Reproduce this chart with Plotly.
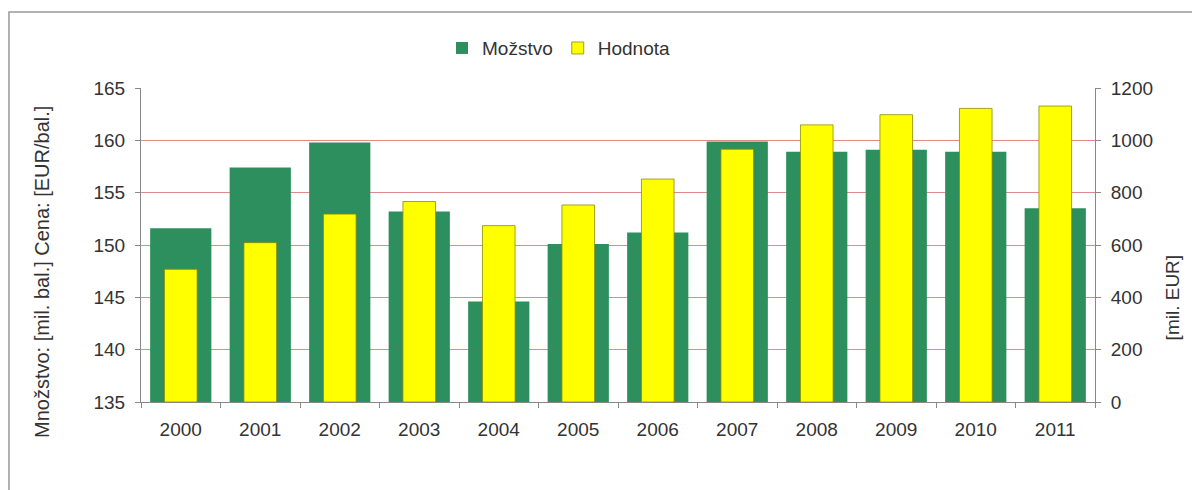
import plotly.graph_objects as go

years = [str(y) for y in range(2000, 2012)]
mnozstvo = [151.6, 157.4, 159.8, 153.2, 144.6, 150.1, 151.2, 159.9, 158.9, 159.1, 158.9, 153.5]
hodnota = [507, 609, 718, 766, 674, 753, 852, 966, 1059, 1098, 1122, 1131]
left_ticks = [135, 140, 145, 150, 155, 160, 165]
right_ticks = [0, 200, 400, 600, 800, 1000, 1200]
grid_vals = [140, 145, 150, 155, 160]

GREEN = "#2E8F5E"
YELLOW = "#FFFF00"
FONT = "Liberation Sans, Arial, sans-serif"
TXT = "#333333"
AX = "#888888"
FS = 19

fig = go.Figure()
fig.add_trace(go.Bar(x=years, y=mnozstvo, name="Možstvo", marker=dict(color=GREEN, line=dict(width=0)),
                     width=0.77, yaxis="y"))
fig.add_trace(go.Bar(x=years, y=hodnota, name="Hodnota",
                     marker=dict(color=YELLOW, line=dict(color="#8C8C00", width=0.8)),
                     width=0.41, yaxis="y2"))
fig.add_trace(go.Scatter(x=years, y=[None] * len(years), yaxis="y3", showlegend=False, hoverinfo="skip"))

fig.update_layout(
    width=1192, height=482,
    margin=dict(l=133, r=105, t=80, b=88),
    paper_bgcolor="white", plot_bgcolor="white",
    barmode="overlay",
    font=dict(family=FONT, size=FS, color=TXT),
    showlegend=True,
    legend=dict(orientation="h", x=0.3155, y=1.127, xanchor="left", yanchor="middle",
                font=dict(size=FS, color=TXT), itemwidth=30, traceorder="normal",
                bgcolor="rgba(0,0,0,0)"),
    xaxis=dict(type="category", showgrid=False, showline=True, linecolor=AX, linewidth=1,
               ticks="outside", ticklen=5, tickcolor=AX, tickson="boundaries",
               tickfont=dict(size=FS, color=TXT), range=[-0.5, 11.5], ticklabelstandoff=10),
    yaxis=dict(range=[135, 165], tickvals=left_ticks, showgrid=False, showline=True,
               linecolor=AX, linewidth=1, ticks="outside", ticklen=5, tickcolor=AX,
               tickfont=dict(size=FS, color=TXT), zeroline=False, ticklabelstandoff=6),
    yaxis2=dict(range=[0, 1200], tickvals=right_ticks, overlaying="y", side="right", showgrid=False,
                showline=True, linecolor=AX, linewidth=1, ticks="outside", ticklen=5,
                tickcolor=AX, tickfont=dict(size=FS, color=TXT), zeroline=False, ticklabelstandoff=6),
    yaxis3=dict(range=[135, 165], tickvals=grid_vals, overlaying="y", showgrid=True,
                gridcolor="#E08A8A", gridwidth=1, showticklabels=False, showline=False,
                zeroline=False, ticks=""),
    annotations=[
        dict(text="Množstvo: [mil. bal.] Cena: [EUR/bal.]", textangle=-90, xref="paper", yref="paper",
             x=-0.1038, y=0.414, xanchor="center", yanchor="middle", showarrow=False,
             font=dict(size=20, color=TXT)),
        dict(text="[mil. EUR]", textangle=-90, xref="paper", yref="paper",
             x=1.081, y=0.334, xanchor="center", yanchor="middle", showarrow=False,
             font=dict(size=FS, color=TXT)),
    ],
    shapes=[dict(type="rect", xref="paper", yref="paper", x0=-0.1384, x1=1.2, y0=-0.4, y1=1.242,
                 line=dict(color="#999999", width=1.5), fillcolor="rgba(0,0,0,0)", layer="below")],
)

fig.write_html("out.html")
